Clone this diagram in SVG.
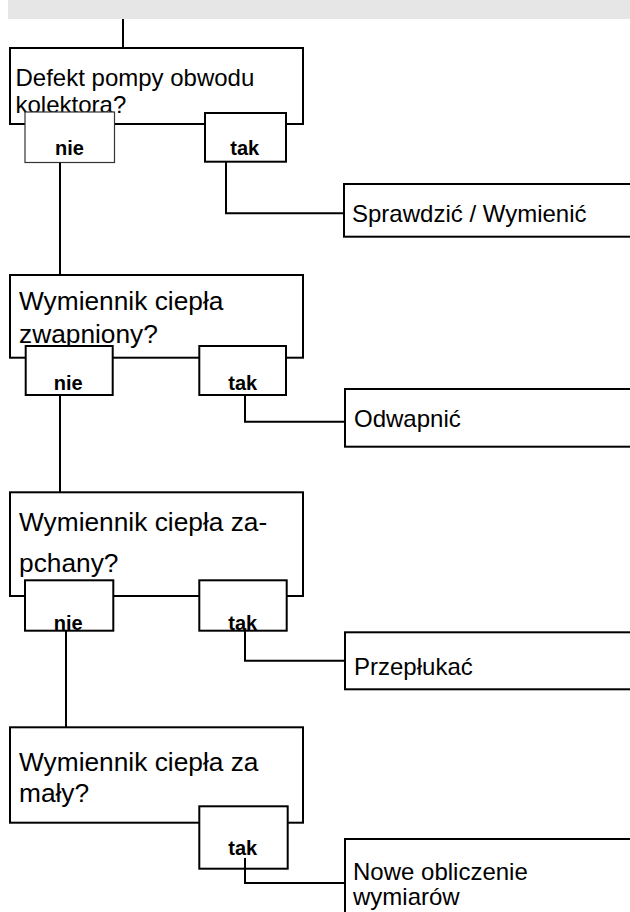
<svg xmlns="http://www.w3.org/2000/svg" width="630" height="912" viewBox="0 0 630 912">
  <style>
    .box { fill: #fff; stroke: #000; stroke-width: 2; }
    .thin { fill: #fff; stroke: #333; stroke-width: 1.2; }
    .q { font-family: "Liberation Sans", Arial, sans-serif; font-size: 24px; fill: #000; }
    .qL { font-family: "Liberation Sans", Arial, sans-serif; font-size: 26.3px; fill: #000; }
    .lbl { font-family: "Liberation Sans", Arial, sans-serif; font-size: 20px; font-weight: bold; fill: #000; text-anchor: middle; }
    .wire { fill: none; stroke: #000; stroke-width: 2; }
  </style>

  <!-- header band -->
  <rect x="8" y="0" width="622" height="19" fill="#e6e6e6"/>

  <!-- question 1 -->
  <g id="q1">
    <rect class="box" x="10" y="48" width="293" height="76"/>
    <text class="q" x="15.5" y="86">Defekt pompy obwodu</text>
    <text class="q" x="15.5" y="113">kolektora?</text>
  </g>
  <g id="q1-nie">
    <rect class="thin" x="25" y="112" width="89.5" height="50.5"/>
    <text class="lbl" x="69.5" y="155">nie</text>
  </g>
  <g id="q1-tak">
    <rect class="box" x="205" y="113" width="81" height="48.7"/>
    <text class="lbl" x="244.7" y="155">tak</text>
  </g>
  <g id="a1">
    <rect class="box" x="344" y="184" width="300" height="52.7"/>
    <text class="q" x="352" y="221.7">Sprawdzić / Wymienić</text>
  </g>

  <!-- question 2 -->
  <g id="q2">
    <rect class="box" x="10" y="275" width="293" height="82.7"/>
    <text class="qL" x="19" y="310">Wymiennik ciepła</text>
    <text class="qL" x="19" y="342.7">zwapniony?</text>
  </g>
  <g id="q2-nie">
    <rect class="box" x="25.7" y="346" width="87" height="49"/>
    <text class="lbl" x="68.3" y="390">nie</text>
  </g>
  <g id="q2-tak">
    <rect class="box" x="199.3" y="346" width="86.7" height="49"/>
    <text class="lbl" x="242.7" y="390">tak</text>
  </g>
  <g id="a2">
    <rect class="box" x="345" y="389" width="300" height="57.7"/>
    <text class="q" x="354" y="426.7">Odwapnić</text>
  </g>

  <!-- question 3 -->
  <g id="q3">
    <rect class="box" x="10" y="492.3" width="293" height="103.7"/>
    <text class="qL" x="19" y="530.7">Wymiennik ciepła za-</text>
    <text class="qL" x="19" y="571.7">pchany?</text>
  </g>
  <g id="q3-nie">
    <rect class="box" x="25" y="580.3" width="88.3" height="50.4"/>
    <text class="lbl" x="68.3" y="630">nie</text>
  </g>
  <g id="q3-tak">
    <rect class="box" x="199.3" y="580.3" width="87.4" height="50.4"/>
    <text class="lbl" x="242.7" y="630">tak</text>
  </g>
  <g id="a3">
    <rect class="box" x="345" y="632.3" width="300" height="57"/>
    <text class="q" x="354" y="675">Przepłukać</text>
  </g>

  <!-- question 4 -->
  <g id="q4">
    <rect class="box" x="10" y="727.3" width="293" height="95.4"/>
    <text class="qL" x="19" y="770.7">Wymiennik ciepła za</text>
    <text class="qL" x="19" y="801.7">mały?</text>
  </g>
  <g id="q4-tak">
    <rect class="box" x="199.3" y="806.3" width="88.4" height="62.4"/>
    <text class="lbl" x="242.7" y="855">tak</text>
  </g>
  <g id="a4">
    <rect class="box" x="345" y="839" width="300" height="100"/>
    <text class="q" x="353" y="880">Nowe obliczenie</text>
    <text class="q" x="353" y="905">wymiarów</text>
  </g>

  <!-- connectors -->
  <g id="connectors">
    <path class="wire" d="M123,19 V47"/>
    <path class="wire" d="M60,162.7 V274"/>
    <path class="wire" d="M226,161.7 V213.3 H344"/>
    <path class="wire" d="M60,395 V492"/>
    <path class="wire" d="M245,395 V421.7 H345"/>
    <path class="wire" d="M66,630.7 V727"/>
    <path class="wire" d="M245,629 V660.7 H345"/>
    <path class="wire" d="M245,858 V883 H345"/>
  </g>
</svg>
